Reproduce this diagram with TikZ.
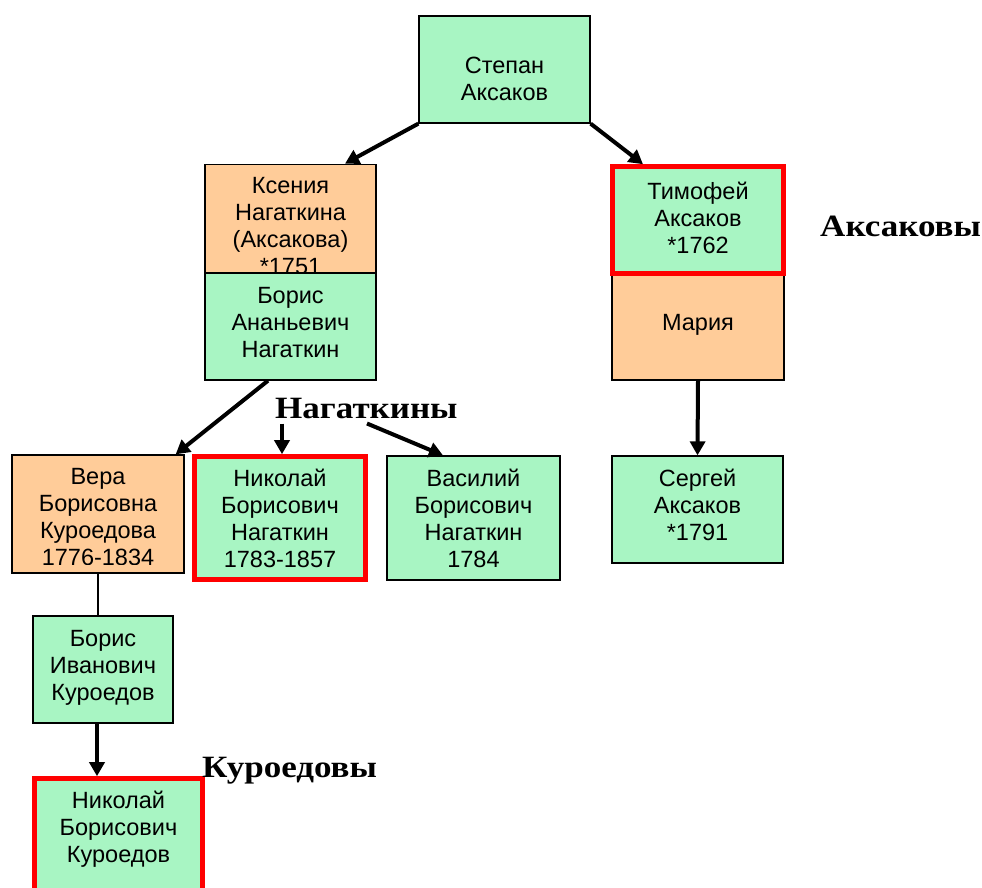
\documentclass[tikz,border=0pt]{standalone}
\usepackage{fontspec}
\setmainfont{Liberation Sans}
\newfontfamily\lserif{Liberation Serif}[FakeStretch=1.13]
\usetikzlibrary{arrows.meta}
\definecolor{grn}{RGB}{168,245,195}
\definecolor{org}{RGB}{255,204,153}
\tikzset{
  person/.style={draw=black, line width=1.3pt, inner sep=0pt, align=center,
    font=\fontsize{23.5}{27}\selectfont, minimum width=171pt, minimum height=107pt},
  malebox/.style={person, fill=grn},
  fembox/.style={person, fill=org},
  redframe/.style={draw=red, line width=4.6pt},
  th/.style 2 args={text height=#1pt, text depth=#2pt},
  arr/.style={line width=4pt, -{Triangle[length=14pt,width=15pt]}},
  thin/.style={line width=1.3pt},
  fam/.style={font=\lserif\bfseries\fontsize{31}{31}\selectfont, inner sep=0pt, anchor=base west}
}
\begin{document}
\begin{tikzpicture}[x=1pt,y=-1pt]
\useasboundingbox (0,0) rectangle (982,888);
% top
\node[malebox, th={81.5}{18.5}] (stepan) at (504.5,69.5) {Степан\\Аксаков};
% Ksenia / Boris
\node[fembox, th={110.5}{-10.5}] (ksenia) at (290.5,219.5) {Ксения\\\rule{0pt}{0pt}Нагаткина\\(Аксакова)\\*1751};
\node[malebox, th={80.5}{19.5}] (borisa) at (290.5,326.5) {Борис\\Ананьевич\\Нагаткин};
% Aksakov branch
\node[fembox, minimum width=172pt, th={53.5}{46.5}] (maria) at (698,326.5) {Мария};
\node[malebox, redframe, th={83}{17}] (timofey) at (698,220) {Тимофей\\Аксаков\\*1762};
\node[malebox, th={80.5}{19.5}] (sergey) at (697.5,509.5) {Сергей\\Аксаков\\*1791};
% third row
\node[fembox, minimum width=172pt, minimum height=118pt, th={103.5}{-3.5}] (vera) at (98,514) {Вера\\Борисовна\\Куроедова\\1776-1834};
\fill[org] ([shift={(1.5,-8.5)}]vera.south west) rectangle ([shift={(-1.5,-1.4)}]vera.south east);
\node[malebox, redframe, minimum height=123pt, th={99}{1}] (nikn) at (280,518) {Николай\\Борисович\\Нагаткин\\1783-1857};
\node[malebox, minimum width=173pt, minimum height=124pt, th={99}{1}] (vasiliy) at (473.5,518) {Василий\\Борисович\\Нагаткин\\1784};
% Kuroedov branch
\node[malebox, minimum width=140pt, th={80.5}{19.5}] (borisi) at (103,669.5) {Борис\\Иванович\\Куроедов};
\node[malebox, redframe, minimum width=168pt, minimum height=124pt, th={71.5}{28.5}] (nikk) at (118.5,840.5) {Николай\\Борисович\\Куроедов};
% family labels
\node[fam] (aks) at (820,236) {Аксаковы};
\node[fam] (nag) at (275,418) {Нагаткины};
\node[fam] (kur) at (202,777) {Куроедовы};
% connectors
\draw[arr] (stepan.south west) -- ([xshift=54.5pt]ksenia.north);
\draw[arr] (stepan.south east) -- ([xshift=-55pt]timofey.north);
\draw[arr] ([xshift=-22.5pt]borisa.south) -- ([xshift=-9pt]vera.north east);
\draw[arr] ([xshift=2pt,yshift=-5pt]nikn.north |- nag.south) -- ([xshift=2pt]nikn.north);
\draw[arr] ([xshift=92pt,yshift=-5pt]nag.south west) -- ([xshift=-30.5pt]vasiliy.north);
\draw[arr] (maria.south) -- (sergey.north);
\draw[thin] (vera.south) -- (vera.south |- borisi.north);
\draw[arr] ([xshift=-6pt]borisi.south) -- ([xshift=-6pt]borisi.south |- nikk.north);
\end{tikzpicture}
\end{document}
